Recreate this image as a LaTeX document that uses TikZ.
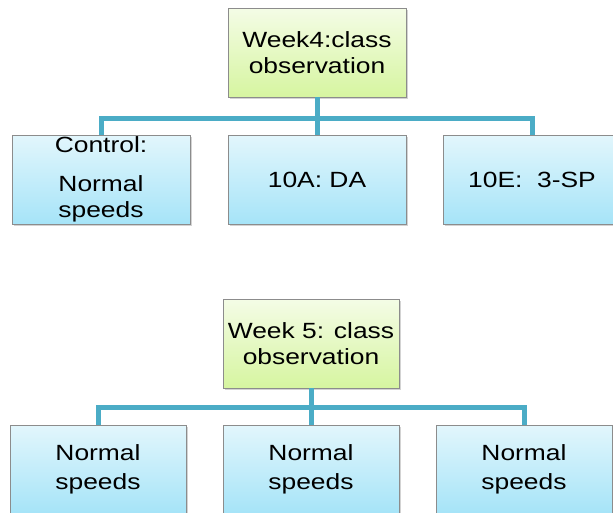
\documentclass[tikz,border=0pt]{standalone}
\usepackage{fontspec}
\setmainfont{Liberation Sans}[FakeStretch=1.2]
\usetikzlibrary{shadows}
\definecolor{linkc}{HTML}{4BACC6}
\definecolor{boxline}{HTML}{8C8C8C}
\tikzset{
  x=1pt, y=-1pt,
  box/.style={draw=boxline, line width=0.8pt, inner sep=0pt, align=center,
    font=\fontsize{22}{26}\selectfont,
    drop shadow={shadow xshift=1.5pt, shadow yshift=-2pt, opacity=0.35}},
  rootbox/.style={box, shading=axis, top color={rgb,255:red,244;green,252;blue,230}, bottom color={rgb,255:red,214;green,245;blue,160},
    minimum width=178pt, minimum height=89pt},
  leafbox/.style={box, shading=axis, top color={rgb,255:red,226;green,246;blue,252}, bottom color={rgb,255:red,166;green,228;blue,248},
    minimum width=178pt, minimum height=89pt},
  link/.style={draw=linkc, line width=5pt}
}
\begin{document}
\begin{tikzpicture}
\useasboundingbox (0,0) rectangle (613,512);
\clip (0,0) rectangle (613,512);
\coordinate (j1) at (317,118);
\coordinate (j2) at (311,407);
% Week 4
\node[rootbox] (r1) at (317,52.5) {Week4:class\\observation};
\node[leafbox] (a1) at (101,179.5) {Control:\\[13pt]Normal\\speeds};
\node[leafbox] (a2) at (317,179.5) {10A: DA};
\node[leafbox] (a3) at (532,179.5) {10E:\ \ 3-SP};
% Week 5
\node[rootbox, minimum width=176pt, minimum height=89pt] (r2) at (311,343.5) {Week 5: class\\observation};
\node[leafbox, minimum width=176pt, minimum height=88pt] (b1) at (98,469) {Normal\\[3pt]speeds};
\node[leafbox, minimum width=176pt, minimum height=88pt] (b2) at (311,469) {Normal\\[3pt]speeds};
\node[leafbox, minimum width=176pt, minimum height=88pt] (b3) at (524,469) {Normal\\[3pt]speeds};
% connectors
\draw[link] (r1.south) -- (j1);
\draw[link] (j1) -| (a1.north);
\draw[link] (j1) -- (a2.north);
\draw[link] (j1) -| (a3.north);
\draw[link] (r2.south) -- (j2);
\draw[link] (j2) -| (b1.north);
\draw[link] (j2) -- (b2.north);
\draw[link] (j2) -| (b3.north);
\end{tikzpicture}
\end{document}
